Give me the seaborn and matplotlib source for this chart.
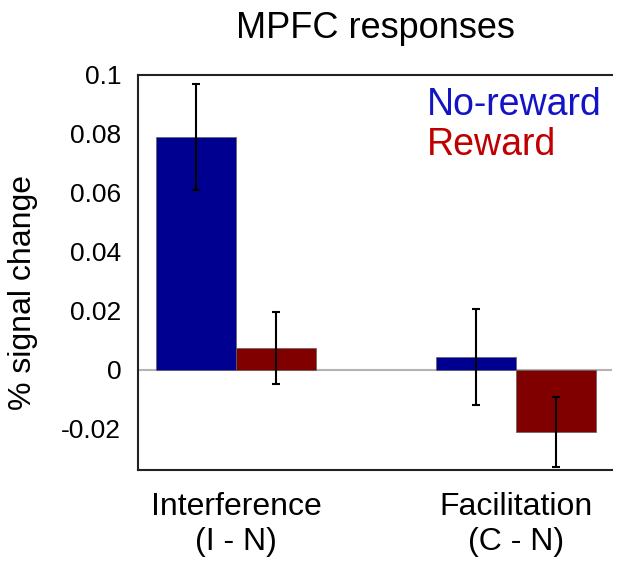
import pandas as pd
import seaborn as sns
import matplotlib.pyplot as plt

# dane
warunki = ["Interference\n(I - N)", "Facilitation\n(C - N)"]
grupy = ["No-reward", "Reward"]
no_reward = [0.0790, 0.0044]
reward = [0.0074, -0.0212]
blad_no_reward = [0.0180, 0.0162]
blad_reward = [0.0122, 0.0118]
yticki = [-0.02, 0, 0.02, 0.04, 0.06, 0.08, 0.1]

kolory_slupkow = ["#000090", "#800000"]
kolory_legendy = ["#1414c4", "#c00000"]

df = pd.DataFrame({
    "warunek": warunki * 2,
    "grupa": [grupy[0]] * 2 + [grupy[1]] * 2,
    "wartosc": no_reward + reward,
})
bledy = [blad_no_reward, blad_reward]

sns.set_style("white")
plt.rcParams["font.family"] = ["Liberation Sans", "DejaVu Sans"]
plt.rcParams["text.color"] = "black"
plt.rcParams["xtick.color"] = "black"
plt.rcParams["ytick.color"] = "black"
plt.rcParams["axes.labelcolor"] = "black"

fig = plt.figure(figsize=(6.24, 5.63), dpi=100)
ax = fig.add_axes([138 / 624, 1 - 470 / 563, (612 - 138) / 624, (470 - 75) / 563])

sns.barplot(data=df, x="warunek", y="wartosc", hue="grupa", palette=kolory_slupkow,
            width=0.571, saturation=1, errorbar=None, edgecolor="#606060",
            linewidth=0.5, ax=ax, zorder=2)

# linia zera
ax.axhline(0, color="#b4b4b4", lw=1.5, zorder=1)

# slupki bledow
for kontener, err in zip(ax.containers, bledy):
    xs = [p.get_x() + p.get_width() / 2 for p in kontener.patches]
    ax.errorbar(xs, kontener.datavalues, yerr=err, fmt="none", ecolor="black",
                elinewidth=1.5, capsize=3, capthick=1.5, zorder=3)

ax.set_xlim(-0.35, 1.343)
ax.set_ylim(-0.034, 0.1)
ax.set_yticks(yticki)
ax.set_yticklabels([f"{t:g}" for t in yticki])
ax.set_xlabel("")
ax.set_ylabel("% signal change", size=23)
ax.yaxis.set_label_coords(-0.21, 0.45)
ax.tick_params(axis="both", length=0, labelsize=19)
ax.tick_params(axis="y", pad=12)
ax.tick_params(axis="x", pad=16, labelsize=23)
ax.set_title("MPFC responses", size=26, pad=27)

for s in ["left", "bottom", "top"]:
    ax.spines[s].set_color("#222222")
    ax.spines[s].set_linewidth(1.5)
ax.spines["right"].set_visible(False)

uchwyty, etykiety = ax.get_legend_handles_labels()
leg = ax.legend(uchwyty, etykiety, loc="upper left", bbox_to_anchor=(0.61, 0.97),
                frameon=False, handlelength=0, handletextpad=0, borderpad=0,
                borderaxespad=0, labelspacing=0.12, fontsize=27,
                labelcolor=kolory_legendy)
for h in leg.legend_handles:
    h.set_visible(False)

fig.savefig("out.png", dpi=100)
